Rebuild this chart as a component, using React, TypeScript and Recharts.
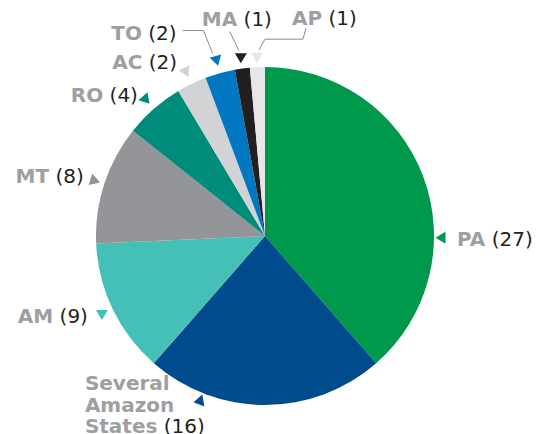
import React from 'react';
import { PieChart, Pie, Cell } from 'recharts';

const names = ['PA', 'Several Amazon States', 'AM', 'MT', 'RO', 'AC', 'TO', 'MA', 'AP'];
const values = [27, 16, 9, 8, 4, 2, 2, 1, 1];
const colors = ['#00994C', '#004B8D', '#45C0B6', '#939598', '#008C7A', '#D1D3D4', '#0077C0', '#231F20', '#E6E7E8'];
const nameLines: string[][] = [['PA'], ['Several', 'Amazon', 'States'], ['AM'], ['MT'], ['RO'], ['AC'], ['TO'], ['MA'], ['AP']];

const data = names.map((n, i) => ({ name: n, value: values[i] }));

type Cfg = {
  angle?: number; // screen degrees override
  dr: number;
  dir?: number; // screen degrees pointing direction
  dx: number;
  dy: number;
  anchor: 'start' | 'end';
  lineH?: number;
  leader?: [number, number][];
};

const labelCfg: Cfg[] = [
  { angle: 0.6, dr: 7, dir: 180, dx: 16, dy: 8, anchor: 'start' },
  { angle: 111.8, dr: 9, dir: 170, dx: -114, dy: -11, anchor: 'start', lineH: 21.5 },
  { dr: 12, dir: 90, dx: -14, dy: 8, anchor: 'end' },
  { dr: 10, dx: -11, dy: 2, anchor: 'end' },
  { dr: 12, dx: -8, dy: 2, anchor: 'end' },
  { dr: 13, dx: -9, dy: -3, anchor: 'end' },
  { dr: 13, dx: -40, dy: -21, anchor: 'end', leader: [[-34, -30], [-13, -30], [-4, -7]] },
  { dr: 11, dir: 90, dx: -39, dy: -32, anchor: 'start', leader: [[-11, -26], [-2, -7]] },
  { dr: 10, dir: 90, dx: 35, dy: -32, anchor: 'start', leader: [[49, -29], [46, -18], [8, -18], [2, -7]] },
];

const FONT = '"DejaVu Sans", Verdana, sans-serif';

const renderLabel = (props: any) => {
  const { cx, cy, midAngle, outerRadius, index } = props;
  const cfg = labelCfg[index];
  const angDeg = cfg.angle !== undefined ? cfg.angle : -midAngle;
  const a = (angDeg * Math.PI) / 180;
  const R = outerRadius + cfg.dr;
  const px = cx + R * Math.cos(a);
  const py = cy + R * Math.sin(a);
  const dDeg = cfg.dir !== undefined ? cfg.dir : angDeg + 180;
  const d = (dDeg * Math.PI) / 180;
  const ux = Math.cos(d), uy = Math.sin(d);
  const vx = -uy, vy = ux;
  const tip = [px + ux * 5.5, py + uy * 5.5];
  const b1 = [px - ux * 4.5 + vx * 6, py - uy * 4.5 + vy * 6];
  const b2 = [px - ux * 4.5 - vx * 6, py - uy * 4.5 - vy * 6];
  const lines = nameLines[index];
  const lh = cfg.lineH ?? 22;
  return (
    <g key={`lbl-${index}`}>
      {cfg.leader && (
        <polyline
          points={cfg.leader.map(([x, y]) => `${px + x},${py + y}`).join(' ')}
          fill="none"
          stroke="#8A8C8E"
          strokeWidth={1}
        />
      )}
      <polygon points={`${tip[0]},${tip[1]} ${b1[0]},${b1[1]} ${b2[0]},${b2[1]}`} fill={colors[index]} />
      <text x={px + cfg.dx} y={py + cfg.dy} textAnchor={cfg.anchor} fontFamily={FONT} fontSize={20}>
        {lines.map((ln, li) => (
          <tspan key={li} x={px + cfg.dx} dy={li === 0 ? 0 : lh}>
            <tspan fontWeight="bold" fill="#9D9FA2">{ln}</tspan>
            {li === lines.length - 1 && <tspan fill="#231F20">{` (${values[index]})`}</tspan>}
          </tspan>
        ))}
      </text>
    </g>
  );
};

export default function App() {
  return (
    <div style={{ position: 'absolute', left: 0, top: 0, width: 549, height: 434, background: '#fff' }}>
      <PieChart width={549} height={434} margin={{ top: 0, right: 0, bottom: 0, left: 0 }}>
        <Pie
          data={data}
          dataKey="value"
          nameKey="name"
          cx={265}
          cy={236}
          outerRadius={169}
          startAngle={90}
          endAngle={-270}
          stroke="none"
          isAnimationActive={false}
          labelLine={false}
          label={renderLabel}
        >
          {data.map((d, i) => (
            <Cell key={d.name} fill={colors[i]} />
          ))}
        </Pie>
      </PieChart>
    </div>
  );
}
